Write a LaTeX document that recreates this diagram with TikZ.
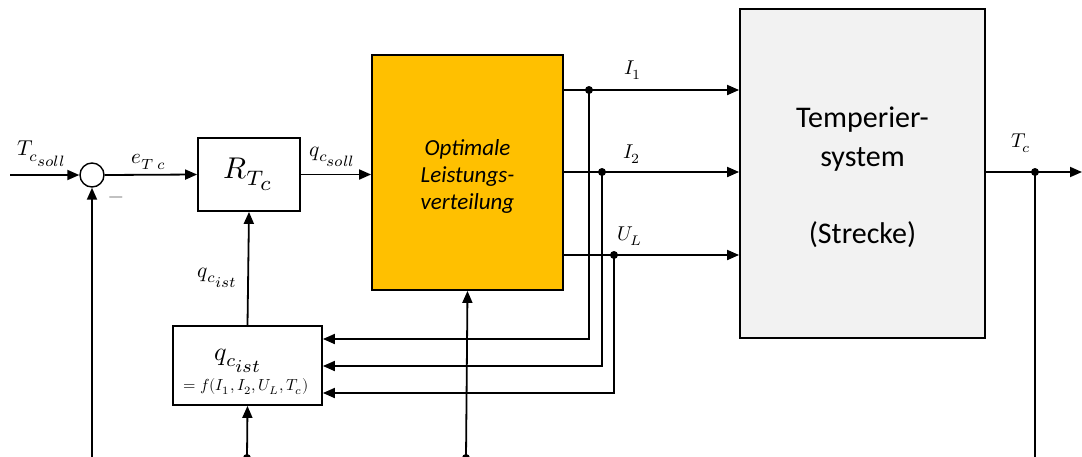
\documentclass[tikz,border=0pt]{standalone}
\usepackage{graphicx}
\usepackage{fontspec}
\setmainfont{Carlito}
\usepackage{unicode-math}
\setmathfont{Latin Modern Math}
\usetikzlibrary{arrows.meta}
\definecolor{yel}{HTML}{FFC000}
\definecolor{lgray}{HTML}{F2F2F2}
\newcommand{\mysub}[1]{{\scriptstyle #1}}
\newcommand{\scm}[2]{\scalebox{#1}{$#2$}}
\begin{document}
\begin{tikzpicture}[x=1pt,y=-1pt,
  line width=1.8pt,
  arr/.style={-{Triangle[length=12pt,width=10pt]}},
  blk/.style={draw,rectangle,inner sep=0pt},
  dotn/.style={circle,fill,inner sep=0pt,minimum size=8pt},
  lbl/.style={inner sep=0pt},
]
\useasboundingbox (0,0) rectangle (1082,456);
% blocks
\node[blk,circle,minimum size=24pt,line width=1.4pt] (sum) at (92,175) {};
\node[blk,minimum width=102pt,minimum height=73pt] (R) at (249,174.5) {\scm{3}{R_{T_{\mysub{c}}}}};
\node[blk,fill=yel,minimum width=191pt,minimum height=235pt] (opt) at (467.5,172.5) {};
\node[align=center,font=\fontsize{23}{27}\selectfont\itshape] (optt) at (467.5,176.5) {Optimale\\Leistungs-\\verteilung};
\node[blk,fill=lgray,minimum width=245pt,minimum height=329pt] (temp) at (862.5,173.5) {};
\node[align=center,font=\fontsize{30}{39}\selectfont] (tempt) at (862.5,177.5) {Temperier-\\system\\[38pt](Strecke)};
\node[blk,minimum width=149pt,minimum height=79pt] (qc) at (247.5,365.5) {};
\node[align=center,inner sep=0pt] (qct) at (246,372) {\hspace*{-14pt}\scm{2.6}{q_{c_{\mysub{ist}}}}\\[5pt]\scm{1.6}{=f(I_1,I_2,U_L,T_c)}};
% coordinates
\coordinate (in) at (10,175);
\coordinate (d1) at (589,90);
\coordinate (d2) at (602,172);
\coordinate (d3) at (614,255);
\coordinate (dT) at (1035,172);
\coordinate (out) at (1082,172);
\coordinate (b1) at (92,470);
\coordinate (b2) at (247,458);
\coordinate (b3) at (466,458);
\coordinate (b4) at (1035,470);
\coordinate (h1) at (589,339);
\coordinate (h2) at (602,366);
\coordinate (h3) at (614,393);
% connectors
\draw[arr] (in) -- (sum.west);
\draw[arr] (sum.east) -- (R.west);
\draw[arr] (R.east) -- (opt.west |- R.east);
\draw (opt.east |- d1) -- (d1);
\draw[arr] (d1) -- (temp.west |- d1);
\draw (opt.east |- d2) -- (d2);
\draw[arr] (d2) -- (temp.west |- d2);
\draw (opt.east |- d3) -- (d3);
\draw[arr] (d3) -- (temp.west |- d3);
\draw[arr] (d1) -- (h1) -- (qc.east |- h1);
\draw[arr] (d2) -- (h2) -- (qc.east |- h2);
\draw[arr] (d3) -- (h3) -- (qc.east |- h3);
\draw[arr] (qc.north) -- (R.south);
\draw (temp.east |- dT) -- (dT);
\draw[arr] (dT) -- (out);
\draw (dT) -- (b4);
\draw[arr] (b1) -- (sum.south);
\draw[arr] (b2) -- (qc.south);
\draw[arr] (b3) -- (opt.south);
\node[dotn] at (d1) {};
\node[dotn] at (d2) {};
\node[dotn] at (d3) {};
\node[dotn] at (dT) {};
\node[dotn] at (b2) {};
\node[dotn] at (b3) {};
% labels
\node[lbl] (l1) at (42,154) {\scm{2.15}{T_{c_{\mysub{soll}}}}};
\node[lbl] (l2) at (149,162) {\scm{2.1}{e_{T\;\mysub{c}}}};
\node[lbl] (l3) at (333,157) {\scm{2.15}{q_{c_{\mysub{soll}}}}};
\node[lbl] (l4) at (218,278) {\scm{2.15}{q_{c_{\mysub{ist}}}}};
\node[lbl] (l5) at (633,70) {\scm{2}{I_{\mysub{1}}}};
\node[lbl] (l6) at (632,154) {\scm{2}{I_{\mysub{2}}}};
\node[lbl] (l7) at (630,236) {\scm{2}{U_{\mysub{L}}}};
\node[lbl] (l8) at (1021,143) {\scm{2}{T_{\mysub{c}}}};
\node[lbl,text=black!60] (m) at (116,200) {\scm{2}{-}};
\end{tikzpicture}
\end{document}
